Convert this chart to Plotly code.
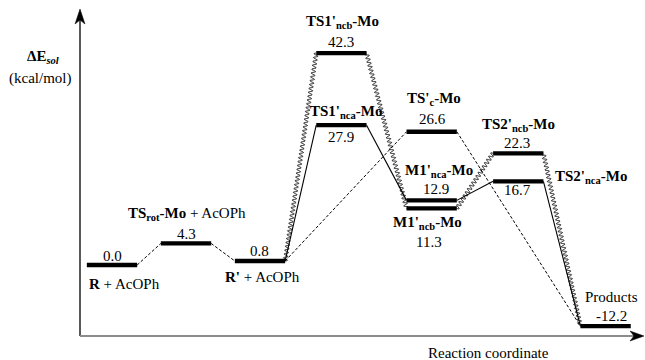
import numpy as np
import plotly.graph_objects as go

# ---------------- data ----------------
states = ["R", "TSrot", "Rp", "TS1ncb", "TS1nca", "TSc", "M1nca", "M1ncb", "TS2ncb", "TS2nca", "P"]
energies = [0.0, 4.3, 0.8, 42.3, 27.9, 26.6, 12.9, 11.3, 22.3, 16.7, -12.2]
stage_pos = [0.0, 1.0, 2.0, 3.1, 3.1, 4.32, 4.32, 4.32, 5.49, 5.49, 6.67]
value_text = ["0.0", "4.3", "0.8", "42.3", "27.9", "26.6", "12.9", "11.3", "22.3", "16.7", "-12.2"]
name_text = [
    "<b>R</b> + AcOPh",
    "<b>TS<sub>rot</sub>-Mo</b> + AcOPh",
    "<b>R'</b> + AcOPh",
    "<b>TS1'<sub>ncb</sub>-Mo</b>",
    "<b>TS1'<sub>nca</sub>-Mo</b>",
    "<b>TS'<sub>c</sub>-Mo</b>",
    "<b>M1'<sub>nca</sub>-Mo</b>",
    "<b>M1'<sub>ncb</sub>-Mo</b>",
    "<b>TS2'<sub>ncb</sub>-Mo</b>",
    "<b>TS2'<sub>nca</sub>-Mo</b>",
    "Products",
]
link_from = ["R", "TSrot", "Rp", "Rp", "Rp", "TS1ncb", "TS1nca", "TSc", "M1ncb", "M1nca", "TS2ncb", "TS2nca"]
link_to = ["TSrot", "Rp", "TS1ncb", "TS1nca", "TSc", "M1ncb", "M1nca", "P", "TS2ncb", "TS2nca", "P", "P"]
link_style = ["dash", "dash", "wavy", "solid", "dash", "wavy", "solid", "dash", "wavy", "solid", "wavy", "solid"]

# ---------------- layout / style ----------------
W, H = 645, 360
X0, PXX = 112.0, 74.0      # pixel of stage 0, pixels per stage unit
Y0, PXY = 265.0, 5.01      # pixel of 0 kcal/mol, pixels per kcal/mol
HW = 0.34                  # half width of a level bar (stage units)
FONT = "Liberation Serif"

# label offsets (pixels): (value dx, value dy, name dx, name dy, name xanchor)
label_style = {
    "R":      (0, 9, -25, -19, "left"),
    "TSrot":  (0, 9, 1, 29, "center"),
    "Rp":     (-1, 10, 2, -16, "center"),
    "TS1ncb": (0, 11, 1, 31, "center"),
    "TS1nca": (0, -12, 4.5, 13, "center"),
    "TSc":    (1, 12.5, 2, 32.5, "center"),
    "M1nca":  (4, 11, 7, 29, "center"),
    "M1ncb":  (-3, -33.5, -4, -14.5, "center"),
    "TS2ncb": (-1, 10, 0, 28, "center"),
    "TS2nca": (-1, -9, 35, 4, "left"),
    "P":      (6, 10, 6, 29, "center"),
}

idx = {s: i for i, s in enumerate(states)}


def wavy(x0, y0, x1, y1, amp=2.1, wl=3.9):
    # decoration of a connector between two levels, built in pixel space
    px0, py0 = x0 * PXX, -y0 * PXY
    px1, py1 = x1 * PXX, -y1 * PXY
    dx, dy = px1 - px0, py1 - py0
    L = np.hypot(dx, dy)
    n = max(int(round(L / wl)), 1)
    t = np.linspace(0, 1, n * 12 + 1)
    nx, ny = -dy / L, dx / L
    off = amp * np.sin(2 * np.pi * n * t)
    px = px0 + dx * t + nx * off
    py = py0 + dy * t + ny * off
    return list(px / PXX), list(-py / PXY)


fig = go.Figure()

# connectors
for f, t_, st in zip(link_from, link_to, link_style):
    i, j = idx[f], idx[t_]
    xa, ya = stage_pos[i] + HW, energies[i]
    xb, yb = stage_pos[j] - HW, energies[j]
    if st == "wavy":
        xs, ys = wavy(xa, ya, xb, yb)
        line = dict(color="black", width=0.9, shape="spline", smoothing=0.6)
    elif st == "solid":
        xs, ys = [xa, xb], [ya, yb]
        line = dict(color="black", width=1.1)
    else:
        xs, ys = [xa, xb], [ya, yb]
        line = dict(color="black", width=1.0, dash="3px,2px")
    fig.add_trace(go.Scatter(x=xs, y=ys, mode="lines", line=line, hoverinfo="skip"))

# level bars
lx, ly = [], []
for s, e, p in zip(states, energies, stage_pos):
    lx += [p - HW, p + HW, None]
    ly += [e, e, None]
fig.add_trace(go.Scatter(x=lx, y=ly, mode="lines", line=dict(color="black", width=4.3), hoverinfo="skip"))

# labels
ann = []
for s, e, p, vt, nt in zip(states, energies, stage_pos, value_text, name_text):
    vdx, vdy, ndx, ndy, nanc = label_style[s]
    ann.append(dict(x=p, y=e, text=vt, showarrow=False, xshift=vdx, yshift=vdy,
                    xanchor="center", yanchor="middle",
                    font=dict(family=FONT, size=15, color="black")))
    ann.append(dict(x=p, y=e, text=nt, showarrow=False, xshift=ndx, yshift=ndy,
                    xanchor=nanc, yanchor="middle",
                    font=dict(family=FONT, size=15, color="black")))

for txt, px, py in [("Reaction coordinate", 488, 353),
                    ("<b>ΔE<sub><i>sol</i></sub></b>", 43, 57),
                    ("(kcal/mol)", 40, 78)]:
    ann.append(dict(x=px / W, y=1 - py / H, xref="paper", yref="paper", text=txt,
                    xanchor="center", yanchor="middle", showarrow=False,
                    font=dict(family=FONT, size=15, color="black")))

# axes drawn as lines + arrowheads
ax_x = (80 - X0) / PXX
ax_y = (Y0 - 336) / PXY
x_end = (644 - X0) / PXX
y_end = (Y0 - 9) / PXY
shapes = [
    dict(type="line", xref="x", yref="y", x0=ax_x, x1=ax_x, y0=ax_y, y1=(Y0 - 20) / PXY,
         line=dict(color="black", width=1.3)),
    dict(type="line", xref="x", yref="y", x0=ax_x, x1=(634 - X0) / PXX, y0=ax_y, y1=ax_y,
         line=dict(color="#8c8c8c", width=2.2)),
    dict(type="path", xref="x", yref="y", xsizemode="pixel", ysizemode="pixel",
         xanchor=ax_x, yanchor=y_end, path="M0,0 L-5,-15 L0,-11 L5,-15 Z",
         fillcolor="black", line=dict(color="black", width=0.5)),
    dict(type="path", xref="x", yref="y", xsizemode="pixel", ysizemode="pixel",
         xanchor=x_end, yanchor=ax_y, path="M0,0 L-14,5 L-10,0 L-14,-5 Z",
         fillcolor="black", line=dict(color="black", width=0.5)),
]

fig.update_layout(
    width=W, height=H, margin=dict(l=0, r=0, t=0, b=0),
    paper_bgcolor="white", plot_bgcolor="white", showlegend=False,
    font=dict(family=FONT),
    xaxis=dict(range=[-X0 / PXX, (W - X0) / PXX], visible=False, fixedrange=True),
    yaxis=dict(range=[(Y0 - H) / PXY, Y0 / PXY], visible=False, fixedrange=True),
    annotations=ann, shapes=shapes,
)

fig.write_html("out.html")
